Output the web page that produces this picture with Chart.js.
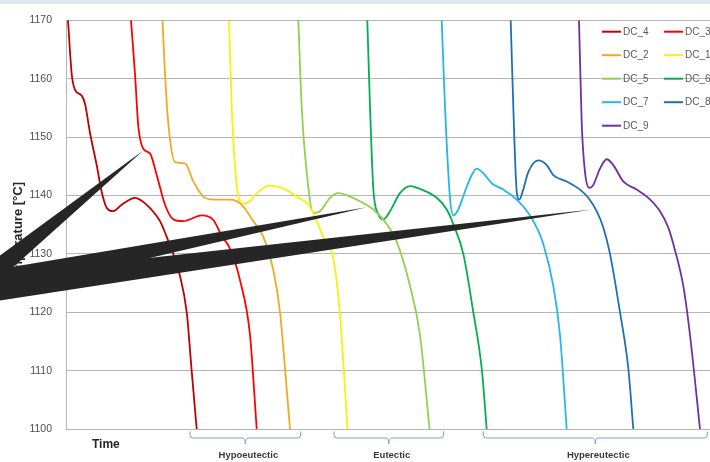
<!DOCTYPE html>
<html>
<head>
<meta charset="utf-8">
<script src="https://cdn.jsdelivr.net/npm/chart.js@4.4.1/dist/chart.umd.min.js"></script>
<style>
  html, body { margin: 0; padding: 0; background: #fff; overflow: hidden; width: 710px; height: 462px; }
  #wrap { position: absolute; left: 0; top: 0; width: 740px; height: 462px; }
  #band { position: absolute; left: 0; top: 0; width: 710px; height: 4px; background: #dfe6ef; }
</style>
</head>
<body>
<div id="wrap"><canvas id="chart" width="740" height="462"></canvas></div>
<div id="band"></div>
<script>
// Cooling curves of the cast samples: [time (s), temperature (°C)]
const seriesNames = ['DC_4', 'DC_3', 'DC_2', 'DC_1', 'DC_5', 'DC_6', 'DC_7', 'DC_8', 'DC_9'];
const seriesColors = ['#C00000', '#FF0000', '#F5A81F', '#F7F20A', '#92D050', '#00B050', '#25B6EA', '#1F6FB8', '#7030A0'];

const dc4 = [[1,1170],[2.85,1160.8],[4.5,1158.1],[7.85,1157.1],[9.5,1155.7],[12,1150.7],[15.35,1145.2],[17.85,1140.6],[20.35,1137.9],[23.5,1137.3],[27.85,1138.4],[34.5,1139.6],[40.35,1138.4],[47,1135.6],[50.35,1132.9],[57,1126.2],[60.35,1120],[62.85,1109.9],[65.35,1100]];
const dc3 = [[32.5,1170],[34.5,1160.8],[36.15,1151.9],[38.65,1148],[42,1147.2],[45.35,1143.5],[49.5,1138.4],[53.65,1135.9],[58.65,1135.6],[67.85,1136.6],[73.65,1135.8],[77.85,1133.1],[82,1130.9],[87,1125.5],[92,1116.1],[95.35,1100]];
const dc2 = [[48.25,1170],[49.5,1160.8],[51.15,1152.4],[54.5,1145.7],[59.5,1145.5],[63.65,1142.4],[68.65,1139.8],[73.65,1139.3],[82,1139.3],[87.85,1138.4],[93.65,1135.6],[98.65,1132.9],[103.65,1127.2],[107,1120],[109.5,1110.4],[112,1100]];
const dc1 = [[81.5,1170],[82.85,1155.2],[85.35,1141.8],[88.35,1138.6],[92,1139],[94.5,1140.1],[102,1141.7],[108.65,1141.2],[115.35,1139.8],[121.15,1138.4],[125.35,1135.6],[128.65,1132.9],[133.65,1129.2],[137,1119.6],[140.75,1100]];
const dc5 = [[116.15,1170],[117.85,1155.2],[120.35,1144],[123.65,1137],[127,1137.3],[132,1139.6],[136.15,1140.4],[142,1139.8],[147,1139],[153.65,1137.6],[160.35,1135.1],[165.35,1132.1],[172,1124.5],[177,1116.1],[181.75,1100]];
const dc6 = [[150.65,1170],[152,1155.2],[153.65,1141.2],[156.15,1136.8],[158.65,1135.9],[162,1137.3],[167,1140.4],[172,1141.6],[177.85,1141],[185.35,1139.6],[190.35,1137.6],[193.65,1135.1],[198.65,1130],[203.65,1120],[207.85,1110.4],[210.35,1100]];
const dc7 = [[187.85,1170],[189.5,1155.2],[192,1139.6],[193.65,1136.6],[196.15,1137.6],[199.5,1140.7],[202.85,1143.5],[205.35,1144.6],[208.65,1143.8],[212.85,1142.1],[218.65,1141],[225.35,1139.3],[231.15,1137],[235.35,1134.5],[238.65,1131.7],[243.65,1124.5],[247,1116.1],[250.35,1100]];
const dc8 = [[222.35,1170],[223.65,1155.2],[225.35,1140.7],[226.65,1139.3],[228.35,1140.7],[231.15,1144],[236.15,1146],[240.35,1145.2],[243.65,1143.5],[250.35,1142.4],[257,1141],[261.15,1139.6],[265.35,1137.3],[268.65,1134.5],[272,1130],[277,1120],[281.15,1110.4],[283.65,1100]];
const dc9 = [[256.5,1170],[257.85,1152.4],[259.5,1144],[261.65,1141.3],[263.65,1141.8],[267,1144.6],[270.35,1146.2],[273.65,1145.2],[278.65,1142.4],[285.35,1141],[291.15,1139.6],[297,1137.3],[301.15,1134.5],[303.65,1131.7],[308.65,1124.5],[312,1116.1],[317,1100]];

const seriesValues = [dc4, dc3, dc2, dc1, dc5, dc6, dc7, dc8, dc9];
const yTicks = [1100, 1110, 1120, 1130, 1140, 1150, 1160, 1170];

// Alloy groups along the time axis: [from, to, label]
const groupFrom = [62, 134, 208.65];
const groupTo = [117.35, 188.75, 320.65];
const groupLabels = ['Hypoeutectic', 'Eutectic', 'Hypereutectic'];

// Pointer wedges: tip [time, temp] and the two base temperatures at the left edge time
const pointerTips = [[38.65, 1147.7], [150.35, 1138.0], [262.85, 1137.6]];
const pointerBaseTime = -33;
const pointerBaseTemps = [[1129.7, 1125.7], [1127.4, 1123.3], [1126.5, 1122.0]];

const gridGray = '#b5b5b5';
const narrow = "'Liberation Sans Narrow', 'Liberation Sans', Arial, sans-serif";
const sans = "'Liberation Sans', Arial, sans-serif";

const extras = {
  id: 'extras',
  afterDatasetsDraw(chart) {
    const ctx = chart.ctx;
    const xs = chart.scales.x, ys = chart.scales.y;
    const area = chart.chartArea;
    ctx.save();

    // legend (two columns, transparent background)
    ctx.font = '10px ' + sans;
    ctx.textBaseline = 'middle';
    ctx.textAlign = 'left';
    chart.data.datasets.forEach((ds, i) => {
      const row = Math.floor(i / 2), col = i % 2;
      const lx = col ? 664 : 602;
      const ly = 31.7 + row * 23.5;
      ctx.strokeStyle = ds.borderColor;
      ctx.lineWidth = 2;
      ctx.beginPath();
      ctx.moveTo(lx, ly);
      ctx.lineTo(lx + 19, ly);
      ctx.stroke();
      ctx.fillStyle = '#595959';
      ctx.fillText(ds.label, lx + 21, ly + 0.5);
    });

    // axis titles
    ctx.fillStyle = '#262626';
    ctx.font = 'bold 12px ' + sans;
    ctx.textAlign = 'left';
    ctx.fillText('Time', 92, 445);

    ctx.save();
    ctx.translate(18, 182);
    ctx.rotate(-Math.PI / 2);
    ctx.font = 'bold 13px ' + narrow;
    ctx.textAlign = 'right';
    ctx.textBaseline = 'middle';
    ctx.fillText('Temperature [°C]', 0, 0);
    ctx.restore();

    // group brackets under the time axis
    const yTop = area.bottom + 2.5, yMid = area.bottom + 9, yTip = area.bottom + 15;
    ctx.strokeStyle = '#7f9ccf';
    ctx.lineWidth = 1;
    groupLabels.forEach((label, i) => {
      const x1 = xs.getPixelForValue(groupFrom[i]);
      const x2 = xs.getPixelForValue(groupTo[i]);
      const xc = (x1 + x2) / 2;
      ctx.beginPath();
      ctx.moveTo(x1, yTop);
      ctx.lineTo(x1, yMid - 3);
      ctx.quadraticCurveTo(x1, yMid, x1 + 3, yMid);
      ctx.lineTo(xc - 3, yMid);
      ctx.quadraticCurveTo(xc, yMid, xc, yTip);
      ctx.quadraticCurveTo(xc, yMid, xc + 3, yMid);
      ctx.lineTo(x2 - 3, yMid);
      ctx.quadraticCurveTo(x2, yMid, x2, yMid - 3);
      ctx.lineTo(x2, yTop);
      ctx.stroke();
      ctx.fillStyle = '#3a3a3a';
      ctx.font = 'bold 9.5px ' + sans;
      ctx.textAlign = 'center';
      ctx.textBaseline = 'middle';
      ctx.fillText(label, xc + 3, area.bottom + 26);
    });

    // pointer wedges
    ctx.fillStyle = '#262626';
    pointerTips.forEach((tip, i) => {
      const bx = xs.getPixelForValue(pointerBaseTime);
      ctx.beginPath();
      ctx.moveTo(bx, ys.getPixelForValue(pointerBaseTemps[i][0]));
      ctx.lineTo(xs.getPixelForValue(tip[0]), ys.getPixelForValue(tip[1]));
      ctx.lineTo(bx, ys.getPixelForValue(pointerBaseTemps[i][1]));
      ctx.closePath();
      ctx.fill();
    });
    ctx.restore();
  }
};

new Chart(document.getElementById('chart'), {
  type: 'line',
  data: {
    datasets: seriesValues.map((vals, i) => ({
      label: seriesNames[i],
      data: vals.map(([x, y]) => ({ x, y })),
      borderColor: seriesColors[i],
      backgroundColor: seriesColors[i],
      borderWidth: 1.8,
      pointRadius: 0,
      cubicInterpolationMode: 'monotone',
      fill: false
    }))
  },
  options: {
    responsive: false,
    animation: false,
    events: [],
    layout: { padding: { left: 0, right: 4, top: 12, bottom: 0 } },
    plugins: { legend: { display: false }, tooltip: { enabled: false } },
    scales: {
      x: {
        type: 'linear', min: 0, max: 335,
        ticks: { display: false },
        grid: { display: false, drawTicks: false },
        border: { display: false },
        afterFit(s) { s.height = 33; }
      },
      y: {
        min: 1100, max: 1170,
        afterBuildTicks(s) { s.ticks = yTicks.map(v => ({ value: v })); },
        ticks: {
          padding: 14, color: '#4d4d4d',
          font: { family: narrow, size: 10.5 },
          callback: v => String(v)
        },
        grid: { color: gridGray, lineWidth: 1, drawTicks: false },
        border: { display: true, color: gridGray },
        afterFit(s) { s.width = 66; }
      }
    }
  },
  plugins: [extras]
});
</script>
</body>
</html>
